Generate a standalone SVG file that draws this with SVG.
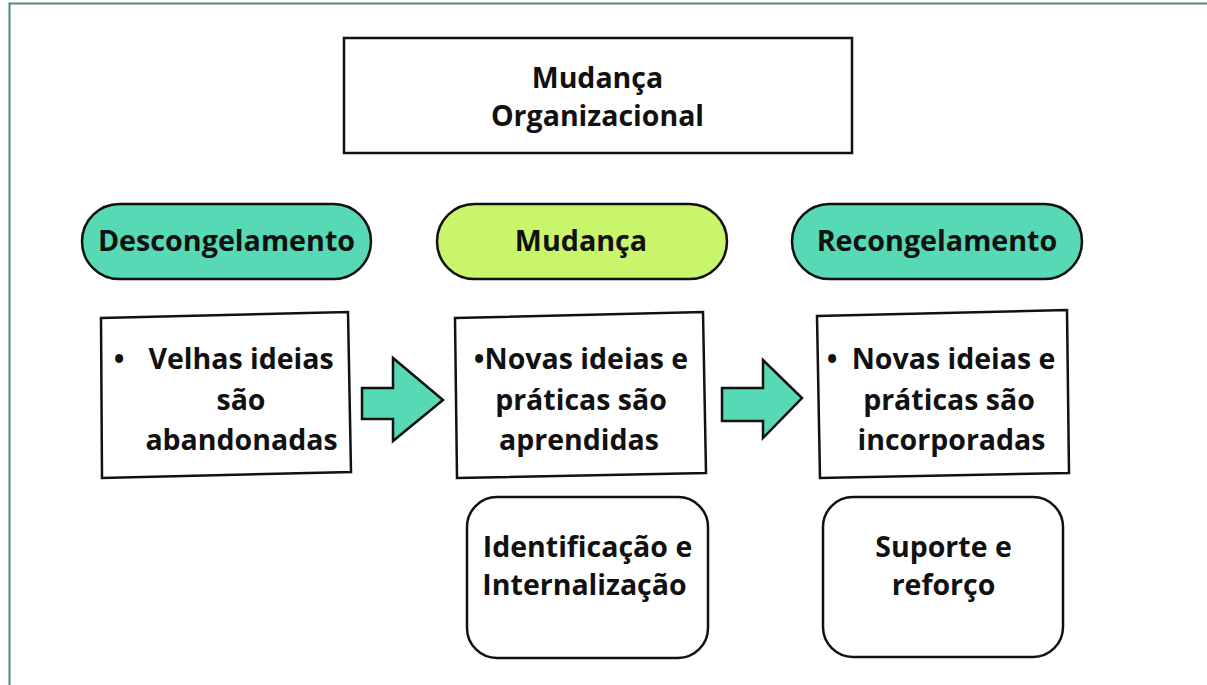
<svg xmlns="http://www.w3.org/2000/svg" width="1207" height="685" viewBox="0 0 1207 685">
<style>
text{font-family:"Open Sans","Liberation Sans",sans-serif;font-weight:700;fill:#111;text-anchor:middle}
.t26{font-size:28.5px}
.t28{font-size:28.5px}
.tp{font-size:28.7px}
.pill{stroke:#111;stroke-width:2.5}
.box{fill:#fff;stroke:#111;stroke-width:2.5}
.arrow{fill:#57d9b5;stroke:#111;stroke-width:2.5;stroke-linejoin:miter}
</style>
<rect x="0" y="0" width="1207" height="685" fill="#fff"/>
<rect x="9.5" y="3.5" width="1210" height="700" fill="none" stroke="#4e8b72" stroke-width="2"/>
<g id="title">
<rect x="344" y="38" width="508" height="115" class="box"/>
<text class="t26" x="597.5" y="88">Mudança</text>
<text class="t26" x="597.5" y="126">Organizacional</text>
</g>
<g id="descongelamento">
<rect x="82" y="204" width="289" height="75" rx="37.5" class="pill" fill="#57d9b5"/>
<text class="tp" x="226.5" y="251">Descongelamento</text>
</g>
<g id="mudanca">
<rect x="437" y="204" width="290" height="75" rx="37.5" class="pill" fill="#c8f56a"/>
<text class="tp" x="581" y="251">Mudança</text>
</g>
<g id="recongelamento">
<rect x="792" y="204" width="290" height="75" rx="37.5" class="pill" fill="#57d9b5"/>
<text class="tp" x="937" y="251">Recongelamento</text>
</g>
<g id="box1">
<polygon points="101,318 348,312 351,472 102,478" class="box"/>
<text class="t28" x="119" y="369">•</text>
<text class="t28" x="241" y="369">Velhas ideias</text>
<text class="t28" x="241" y="410">são</text>
<text class="t28" x="241.5" y="450">abandonadas</text>
</g>
<g id="box2">
<polygon points="455,318 703,312 706,473 457,478" class="box"/>
<text class="t28" x="581" y="369">•Novas ideias e</text>
<text class="t28" x="581" y="410">práticas são</text>
<text class="t28" x="579" y="450">aprendidas</text>
</g>
<g id="box3">
<polygon points="817,316 1067,310 1069,473 820,478" class="box"/>
<text class="t28" x="832" y="369">•</text>
<text class="t28" x="953.5" y="369">Novas ideias e</text>
<text class="t28" x="949" y="410">práticas são</text>
<text class="t28" x="951.5" y="450">incorporadas</text>
</g>
<g id="box4">
<rect x="467" y="497" width="241" height="161" rx="30" class="box"/>
<text class="t26" x="587.5" y="557">Identificação e</text>
<text class="t26" x="584.5" y="595">Internalização</text>
</g>
<g id="box5">
<rect x="823" y="497" width="240" height="160" rx="30" class="box"/>
<text class="t26" x="943.5" y="557">Suporte e</text>
<text class="t26" x="943.5" y="595">reforço</text>
</g>
<g id="connectors">
<polygon points="362,388 393,388 393,358 443,400 393,441 393,419 362,419" class="arrow"/>
<polygon points="722,388 763,388 763,360 802,398 763,438 763,421 722,421" class="arrow"/>
</g>
</svg>
